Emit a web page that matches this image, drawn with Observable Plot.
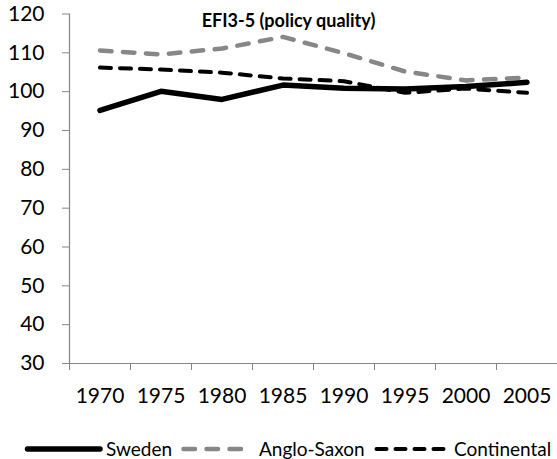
<!DOCTYPE html>
<html>
<head>
<meta charset="utf-8">
<script src="https://cdn.jsdelivr.net/npm/d3@7"></script>
<script src="https://cdn.jsdelivr.net/npm/@observablehq/plot@0.6"></script>
<style>
  html, body { margin: 0; padding: 0; background: #fff; overflow: hidden; }
  #wrap { position: relative; width: 557px; height: 459px; font-family: Lato, sans-serif; }
  #chart svg { display: block; }
  #legend { position: absolute; left: 0; top: 441px; width: 557px; height: 16px; }
  .item { position: absolute; top: 0; height: 16px; display: flex; align-items: center; font-size: 19px; line-height: 16px; color: #000; white-space: nowrap; }
  .item svg { display: block; }
</style>
</head>
<body>
<div id="wrap">
  <div id="chart"></div>
  <div id="legend"></div>
</div>
<script>
const years = [1970, 1975, 1980, 1985, 1990, 1995, 2000, 2005];
const sweden = [95.2, 100.1, 98.0, 101.7, 100.9, 100.7, 101.3, 102.4];
const angloSaxon = [110.6, 109.6, 111.1, 114.1, 109.9, 105.2, 102.9, 103.6];
const continental = [106.2, 105.7, 104.9, 103.4, 102.7, 99.7, 100.8, 99.7];
const yTicks = [30, 40, 50, 60, 70, 80, 90, 100, 110, 120];
const xLabels = ["1970", "1975", "1980", "1985", "1990", "1995", "2000", "2005"];
const seriesNames = ["Sweden", "Anglo-Saxon", "Continental"];
const title = "EFI3-5 (policy quality)";

const toRows = vals => years.map((y, i) => ({year: y, value: vals[i]}));
const bounds = d3.range(years.length + 1).map(i => years[0] - 2.5 + i * 5);
const axisGray = "#868686";
const gray = "#878787";

const chart = Plot.plot({
  width: 557,
  height: 432,
  marginLeft: 69,
  marginRight: 0,
  marginTop: 13.5,
  marginBottom: 69,
  style: {fontFamily: "Lato, sans-serif", background: "#fff", color: "#000"},
  x: {type: "linear", domain: [bounds[0], bounds[bounds.length - 1]]},
  y: {domain: [30, 120]},
  marks: [
    Plot.axisY({ticks: yTicks, tickSize: 7, tickPadding: 18, stroke: axisGray, fontSize: 21, label: null, tickFormat: d => String(d), fill: "#000"}),
    Plot.axisX({ticks: bounds, tickSize: 7, stroke: axisGray, tickFormat: () => "", label: null}),
    Plot.axisX({ticks: years, tickSize: 0, tickPadding: 25, fontSize: 21, label: null, tickFormat: (d, i) => xLabels[i], fill: "#000"}),
    Plot.ruleX([bounds[0]], {stroke: axisGray, strokeWidth: 1.2}),
    Plot.ruleY([30], {stroke: axisGray, strokeWidth: 1.2}),
    Plot.line(toRows(angloSaxon), {x: "year", y: "value", stroke: gray, strokeWidth: 4.5, strokeDasharray: "11.5 11.5", strokeLinecap: "round", strokeLinejoin: "round"}),
    Plot.line(toRows(continental), {x: "year", y: "value", stroke: "#000", strokeWidth: 4, strokeDasharray: "11 9", strokeLinecap: "round", strokeLinejoin: "round"}),
    Plot.line(toRows(sweden), {x: "year", y: "value", stroke: "#000", strokeWidth: 5.5, strokeLinecap: "round", strokeLinejoin: "round"}),
    Plot.text([title], {frameAnchor: "top", dx: -25, dy: 0, fontSize: 18, fontWeight: "bold", fill: "#000"})
  ]
});
document.getElementById("chart").appendChild(chart);

// legend
const legend = document.getElementById("legend");
const items = [
  {name: seriesNames[0], left: 24, w: 80, stroke: "#000", sw: 5.5, dash: null, gapAfter: 2},
  {name: seriesNames[1], left: 180, w: 68, stroke: gray, sw: 4.5, dash: "11.5 11.5", gapAfter: 11},
  {name: seriesNames[2], left: 373, w: 80, stroke: "#000", sw: 4, dash: "10 9", gapAfter: 1}
];
for (const it of items) {
  const div = document.createElement("div");
  div.className = "item";
  div.style.left = it.left + "px";
  const svg = d3.create("svg").attr("width", it.w).attr("height", 16);
  svg.append("line")
    .attr("x1", 3.5).attr("x2", it.w - 4).attr("y1", 8).attr("y2", 8)
    .attr("stroke", it.stroke).attr("stroke-width", it.sw)
    .attr("stroke-linecap", "round")
    .attr("stroke-dasharray", it.dash);
  div.appendChild(svg.node());
  const span = document.createElement("span");
  span.textContent = it.name;
  span.style.marginLeft = it.gapAfter + "px";
  div.appendChild(span);
  legend.appendChild(div);
}
</script>
</body>
</html>
